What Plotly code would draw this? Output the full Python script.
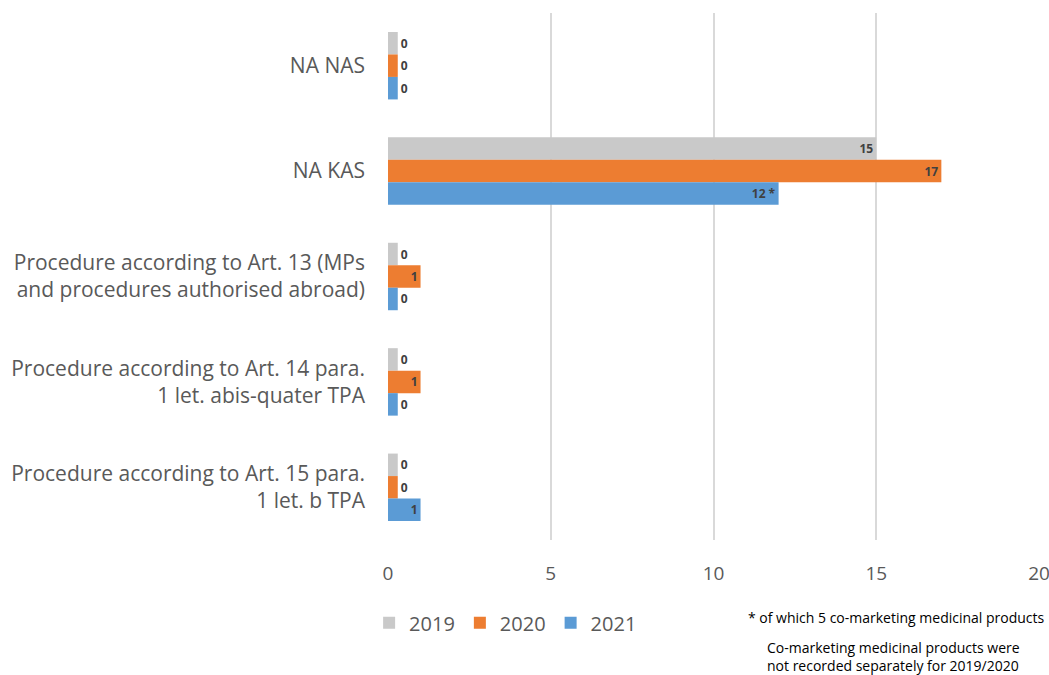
import plotly.graph_objects as go

categories = [
    "NA NAS",
    "NA KAS",
    "Procedure according to Art. 13 (MPs<br>and procedures authorised abroad)",
    "Procedure according to Art. 14 para.<br>1 let. abis-quater TPA",
    "Procedure according to Art. 15 para.<br>1 let. b TPA",
]
years = ["2019", "2020", "2021"]
values_2019 = [0, 15, 0, 0, 0]
values_2020 = [0, 17, 1, 1, 0]
values_2021 = [0, 12, 0, 0, 1]
labels_2021 = ["0", "12 *", "0", "0", "1"]
x_ticks = [0, 5, 10, 15, 20]

colors = {"2019": "#C9C9C9", "2020": "#ED7D31", "2021": "#5B9BD5"}
MIN_BAR = 0.3  # zero values drawn as a short stub, as in the original

series = {
    "2019": (values_2019, [str(v) for v in values_2019]),
    "2020": (values_2020, [str(v) for v in values_2020]),
    "2021": (values_2021, labels_2021),
}

FONT = "Open Sans, Arial, sans-serif"
label_font = dict(family=FONT, size=12, color="#404040", weight="bold")

fig = go.Figure()
for y in years:
    vals, labs = series[y]
    fig.add_trace(go.Bar(
        name=y,
        y=categories,
        x=[max(v, MIN_BAR) for v in vals],
        orientation="h",
        marker=dict(color=colors[y], line=dict(width=0)),
        text=labs,
        textposition=["inside" if v >= 1 else "outside" for v in vals],
        insidetextanchor="end",
        textangle=0,
        constraintext="none",
        textfont=label_font,
        outsidetextfont=label_font,
        insidetextfont=label_font,
        cliponaxis=False,
        hoverinfo="x+y+name",
    ))

fig.update_layout(
    width=1049, height=675,
    margin=dict(l=388, r=10, t=13, b=135, autoexpand=False),
    paper_bgcolor="white", plot_bgcolor="white",
    barmode="group", bargap=0.36, bargroupgap=0,
    font=dict(family=FONT, color="#595959"),
    showlegend=True,
    legend=dict(
        orientation="h", x=-0.029, xanchor="left", y=-0.157, yanchor="middle",
        font=dict(size=20, color="#595959"), traceorder="normal",
        itemwidth=30, tracegroupgap=0,
    ),
    xaxis=dict(
        range=[0, 20], tickvals=x_ticks,
        showgrid=True, gridcolor="#D9D9D9", gridwidth=2,
        zeroline=False, showline=False,
        tickfont=dict(size=19, color="#595959"),
        ticks="", ticklabelstandoff=20,
        ticklabeloverflow="allow",
        automargin=False,
        fixedrange=True,
    ),
    yaxis=dict(
        autorange="reversed",
        tickfont=dict(size=21, color="#595959"),
        ticks="", ticklabelstandoff=22,
        showgrid=False, showline=False,
        automargin=False,
    ),
    annotations=[
        dict(text="* of which 5 co-marketing medicinal products",
             xref="paper", yref="paper", x=1.012, y=-0.148,
             xanchor="right", yanchor="middle", showarrow=False,
             font=dict(size=14, color="#000000")),
        dict(text="Co-marketing medicinal products were<br>not recorded separately for 2019/2020",
             xref="paper", yref="paper", x=0.579, y=-0.222,
             xanchor="left", yanchor="middle", align="left", showarrow=False,
             font=dict(size=14, color="#000000")),
    ],
)

fig.write_html(
    "out.html",
    config={"displayModeBar": False},
    post_script="document.body.style.margin='0';document.body.style.overflow='hidden';",
)
